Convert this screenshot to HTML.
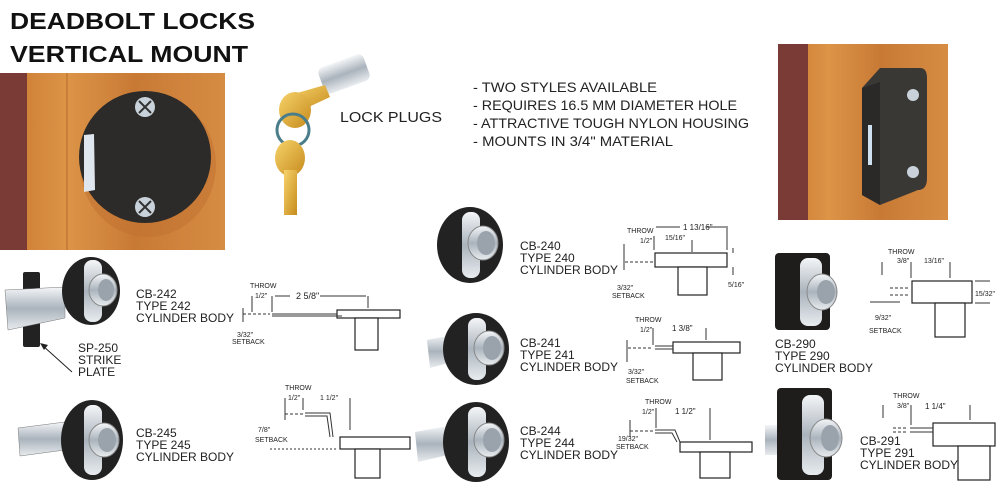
<!DOCTYPE html>
<html><head><meta charset="utf-8"><style>
html,body{margin:0;padding:0;background:#fff;}
svg{display:block;font-family:"Liberation Sans",Arial,sans-serif;}
.lb{font-size:12px;fill:#222;}
.d{font-size:7px;fill:#222;}
.ln{stroke:#333;stroke-width:1;fill:none;}
.pl{stroke:#222;stroke-width:1.2;fill:#fff;}
.ds{stroke:#333;stroke-width:1;stroke-dasharray:3,2;fill:none;}
</style></head><body>
<svg width="1000" height="500" viewBox="0 0 1000 500">
<defs>
<linearGradient id="wood" x1="0" y1="0" x2="1" y2="0">
<stop offset="0" stop-color="#c9782f"/><stop offset="0.3" stop-color="#dc9447"/><stop offset="0.6" stop-color="#c87a35"/><stop offset="1" stop-color="#d68c43"/>
</linearGradient>
<linearGradient id="chrome" x1="0" y1="0" x2="0" y2="1">
<stop offset="0" stop-color="#f4f6f8"/><stop offset="0.5" stop-color="#aab3bc"/><stop offset="1" stop-color="#e8ecef"/>
</linearGradient>
<linearGradient id="gold" x1="0" y1="0" x2="1" y2="1">
<stop offset="0" stop-color="#f6d36a"/><stop offset="1" stop-color="#c78b1d"/>
</linearGradient>
</defs>

<text x="10" y="29" font-size="23" font-weight="bold" fill="#111" textLength="245" lengthAdjust="spacingAndGlyphs">DEADBOLT LOCKS</text>
<text x="10" y="62" font-size="23" font-weight="bold" fill="#111" textLength="238" lengthAdjust="spacingAndGlyphs">VERTICAL MOUNT</text>

<!-- left photo -->
<rect x="0" y="73" width="225" height="177" fill="url(#wood)"/>
<rect x="0" y="73" width="27" height="177" fill="#7a3a36"/>
<line x1="67" y1="73" x2="67" y2="250" stroke="#b56a2a" stroke-width="1"/>
<ellipse cx="148" cy="165" rx="68" ry="72" fill="#c07030" opacity="0.5"/>
<circle cx="145" cy="157" r="66" fill="#2c2b29"/>
<path d="M84 135 L94 134 L95 190 L84 192 Z" fill="#dfe6ee"/>
<circle cx="145" cy="107" r="10" fill="#c9d2da"/><circle cx="145" cy="207" r="10" fill="#c9d2da"/>
<path d="M139 101 L151 113 M151 101 L139 113 M139 201 L151 213 M151 201 L139 213" stroke="#333" stroke-width="2"/>

<!-- keys -->
<rect x="320" y="60" width="48" height="28" rx="6" fill="url(#chrome)" transform="rotate(-20 344 74)"/>
<path d="M290 95 L325 85 L330 97 L298 112 Z" fill="url(#gold)"/>
<ellipse cx="295" cy="110" rx="16" ry="18" fill="url(#gold)"/>
<circle cx="293" cy="130" r="16" fill="none" stroke="#4a7d8a" stroke-width="3"/>
<ellipse cx="290" cy="158" rx="15" ry="18" fill="url(#gold)"/>
<rect x="284" y="170" width="13" height="45" fill="url(#gold)"/>
<text x="340" y="122" font-size="15" fill="#222" textLength="102" lengthAdjust="spacingAndGlyphs">LOCK PLUGS</text>

<!-- bullets -->
<g font-size="14" fill="#222">
<text x="473" y="92" textLength="184" lengthAdjust="spacingAndGlyphs">- TWO STYLES AVAILABLE</text>
<text x="473" y="110" textLength="264" lengthAdjust="spacingAndGlyphs">- REQUIRES 16.5 MM DIAMETER HOLE</text>
<text x="473" y="128" textLength="276" lengthAdjust="spacingAndGlyphs">- ATTRACTIVE TOUGH NYLON HOUSING</text>
<text x="473" y="146" textLength="200" lengthAdjust="spacingAndGlyphs">- MOUNTS IN 3/4" MATERIAL</text>
</g>

<!-- right photo -->
<rect x="778" y="44" width="170" height="176" fill="url(#wood)"/>
<rect x="778" y="44" width="30" height="176" fill="#7a3a36"/>
<path d="M862 88 L880 68 L920 68 Q927 68 927 78 L927 178 Q927 190 918 190 L880 205 L862 195 Z" fill="#3a3835"/>
<path d="M862 88 L880 82 L880 205 L862 195 Z" fill="#2a2927"/>
<rect x="868" y="125" width="4" height="40" fill="#cfe0f0"/>
<circle cx="913" cy="95" r="6" fill="#c9d2da"/><circle cx="913" cy="172" r="6" fill="#c9d2da"/>

<!-- CB-242 -->
<rect x="23" y="272" width="17" height="75" rx="2" fill="#222"/>
<path d="M5 290 L65 287 L65 318 L8 330 Z" fill="url(#chrome)" stroke="#777" stroke-width="0.5"/>
<ellipse cx="91" cy="291" rx="29" ry="34" fill="#222"/>
<rect x="84" y="260" width="18" height="62" rx="8" fill="url(#chrome)"/>
<ellipse cx="103" cy="290" rx="14" ry="16" fill="url(#chrome)" stroke="#888" stroke-width="1"/>
<ellipse cx="106" cy="290" rx="8" ry="11" fill="#9aa3ac"/>
<line x1="72" y1="372" x2="42" y2="345" stroke="#222" stroke-width="1"/>
<path d="M40 343 L48 345 L44 350 Z" fill="#222"/>

<!-- CB-245 -->
<path d="M18 428 L65 422 L65 450 L20 456 Z" fill="url(#chrome)" stroke="#777" stroke-width="0.5"/>
<ellipse cx="92" cy="440" rx="31" ry="40" fill="#222"/>
<rect x="84" y="405" width="18" height="70" rx="8" fill="url(#chrome)"/>
<ellipse cx="104" cy="440" rx="15" ry="17" fill="url(#chrome)" stroke="#888"/>
<ellipse cx="107" cy="440" rx="9" ry="12" fill="#9aa3ac"/>

<!-- CB-240 -->
<ellipse cx="470" cy="245" rx="33" ry="38" fill="#222"/>
<rect x="462" y="212" width="18" height="66" rx="8" fill="url(#chrome)"/>
<ellipse cx="483" cy="243" rx="15" ry="17" fill="url(#chrome)" stroke="#888"/>
<ellipse cx="486" cy="243" rx="9" ry="12" fill="#9aa3ac"/>
<!-- CB-241 -->
<path d="M427 340 L452 335 L452 362 L430 368 Z" fill="url(#chrome)"/>
<ellipse cx="476" cy="349" rx="33" ry="36" fill="#222"/>
<rect x="468" y="318" width="18" height="62" rx="8" fill="url(#chrome)"/>
<ellipse cx="489" cy="348" rx="15" ry="17" fill="url(#chrome)" stroke="#888"/>
<ellipse cx="492" cy="348" rx="9" ry="12" fill="#9aa3ac"/>
<!-- CB-244 -->
<path d="M415 432 L448 426 L448 455 L418 462 Z" fill="url(#chrome)"/>
<ellipse cx="476" cy="442" rx="33" ry="40" fill="#222"/>
<rect x="468" y="407" width="18" height="70" rx="8" fill="url(#chrome)"/>
<ellipse cx="489" cy="440" rx="15" ry="17" fill="url(#chrome)" stroke="#888"/>
<ellipse cx="492" cy="440" rx="9" ry="12" fill="#9aa3ac"/>

<!-- rectangular bodies -->
<rect x="775" y="253" width="55" height="77" rx="4" fill="#1e1d1b"/>
<rect x="800" y="258" width="22" height="68" rx="8" fill="url(#chrome)"/>
<ellipse cx="822" cy="292" rx="15" ry="18" fill="url(#chrome)" stroke="#888"/>
<ellipse cx="826" cy="292" rx="9" ry="12" fill="#9aa3ac"/>

<rect x="765" y="425" width="20" height="30" fill="url(#chrome)"/>
<rect x="777" y="388" width="55" height="92" rx="4" fill="#1e1d1b"/>
<rect x="802" y="395" width="22" height="80" rx="8" fill="url(#chrome)"/>
<ellipse cx="826" cy="438" rx="16" ry="19" fill="url(#chrome)" stroke="#888"/>
<ellipse cx="830" cy="438" rx="9" ry="13" fill="#9aa3ac"/>

<!-- labels -->
<g class="lb">
<text x="136" y="298">CB-242</text><text x="136" y="310">TYPE 242</text><text x="136" y="322">CYLINDER BODY</text>
<text x="78" y="352">SP-250</text><text x="78" y="364">STRIKE</text><text x="78" y="376">PLATE</text>
<text x="136" y="437">CB-245</text><text x="136" y="449">TYPE 245</text><text x="136" y="461">CYLINDER BODY</text>
<text x="520" y="250">CB-240</text><text x="520" y="262">TYPE 240</text><text x="520" y="274">CYLINDER BODY</text>
<text x="520" y="347">CB-241</text><text x="520" y="359">TYPE 241</text><text x="520" y="371">CYLINDER BODY</text>
<text x="520" y="435">CB-244</text><text x="520" y="447">TYPE 244</text><text x="520" y="459">CYLINDER BODY</text>
<text x="775" y="348">CB-290</text><text x="775" y="360">TYPE 290</text><text x="775" y="372">CYLINDER BODY</text>
<text x="860" y="445">CB-291</text><text x="860" y="457">TYPE 291</text><text x="860" y="469">CYLINDER BODY</text>
</g>

<!-- drawing CB-242 -->
<g>
<rect x="337" y="310" width="63" height="8" class="pl"/>
<rect x="355" y="318" width="23" height="32" class="pl"/>
<line x1="272" y1="314" x2="337" y2="314" class="ln"/><line x1="272" y1="316" x2="342" y2="316" class="ln"/>
<path d="M243 314 L270 314" class="ds"/>
<line x1="243" y1="308" x2="243" y2="322" class="ln"/>
<line x1="252" y1="296" x2="252" y2="312" class="ln"/><line x1="272" y1="296" x2="272" y2="312" class="ln"/>
<line x1="368" y1="296" x2="368" y2="308" class="ln"/>
<line x1="275" y1="296" x2="290" y2="296" class="ln"/><line x1="320" y1="296" x2="366" y2="296" class="ln"/>
<text class="d" x="250" y="288">THROW</text><text class="d" x="255" y="298">1/2"</text>
<text x="296" y="299" font-size="9" fill="#222">2 5/8"</text>
<text class="d" x="237" y="337">3/32"</text><text class="d" x="232" y="344">SETBACK</text>
</g>
<!-- CB-245 -->
<g>
<rect x="340" y="437" width="70" height="12" class="pl"/>
<rect x="355" y="449" width="25" height="29" class="pl"/>
<path d="M305 413 L330 413 L333 437" class="ln"/><path d="M305 416 L327 416 L330 437" class="ln"/>
<path d="M285 414 L303 414" class="ds"/>
<line x1="285" y1="398" x2="285" y2="420" class="ln"/><line x1="303" y1="398" x2="303" y2="410" class="ln"/>
<line x1="350" y1="398" x2="350" y2="430" class="ln"/><line x1="270" y1="449" x2="338" y2="449" class="ln" stroke-dasharray="2,2"/>
<text class="d" x="285" y="390">THROW</text><text class="d" x="288" y="400">1/2"</text><text class="d" x="320" y="400">1 1/2"</text>
<text class="d" x="258" y="432">7/8"</text><text class="d" x="255" y="442">SETBACK</text>
</g>
<!-- CB-240 -->
<g>
<rect x="655" y="253" width="72" height="14" class="pl"/>
<rect x="678" y="267" width="29" height="28" class="pl"/>
<path d="M625 262 L654 262" class="ds"/>
<line x1="624" y1="244" x2="624" y2="270" class="ln"/><line x1="654" y1="236" x2="654" y2="250" class="ln"/>
<line x1="692" y1="240" x2="692" y2="252" class="ln"/><line x1="727" y1="226" x2="727" y2="250" class="ln"/>
<line x1="656" y1="227" x2="680" y2="227" class="ln"/><line x1="706" y1="227" x2="726" y2="227" class="ln"/>
<line x1="733" y1="248" x2="733" y2="253" class="ln"/><line x1="733" y1="267" x2="733" y2="275" class="ln"/>
<text class="d" x="627" y="233">THROW</text><text class="d" x="640" y="243">1/2"</text><text class="d" x="665" y="240">15/16"</text>
<text x="683" y="230" font-size="8" fill="#222">1 13/16"</text>
<text class="d" x="617" y="290">3/32"</text><text class="d" x="612" y="298">SETBACK</text><text class="d" x="728" y="287">5/16"</text>
</g>
<!-- CB-241 -->
<g>
<rect x="673" y="342" width="67" height="11" class="pl"/>
<rect x="693" y="353" width="29" height="27" class="pl"/>
<line x1="655" y1="346" x2="673" y2="346" class="ln"/><line x1="655" y1="349" x2="673" y2="349" class="ln"/>
<path d="M628 348 L653 348" class="ds"/>
<line x1="627" y1="340" x2="627" y2="362" class="ln"/><line x1="653" y1="328" x2="653" y2="345" class="ln"/>
<line x1="706" y1="328" x2="706" y2="340" class="ln"/>
<text class="d" x="635" y="322">THROW</text><text class="d" x="640" y="332">1/2"</text><text x="672" y="331" font-size="8" fill="#222">1 3/8"</text>
<text class="d" x="628" y="374">3/32"</text><text class="d" x="626" y="383">SETBACK</text>
</g>
<!-- CB-244 -->
<g>
<rect x="680" y="442" width="72" height="10" class="pl"/>
<rect x="700" y="452" width="30" height="26" class="pl"/>
<path d="M655 430 L675 430 L680 442" class="ln"/><path d="M655 433 L672 433 L677 442" class="ln"/>
<path d="M630 431 L653 431" class="ds"/>
<line x1="630" y1="420" x2="630" y2="437" class="ln"/><line x1="656" y1="408" x2="656" y2="428" class="ln"/>
<line x1="710" y1="408" x2="710" y2="440" class="ln"/>
<text class="d" x="645" y="404">THROW</text><text class="d" x="642" y="414">1/2"</text><text x="675" y="414" font-size="8" fill="#222">1 1/2"</text>
<text class="d" x="618" y="441">19/32"</text><text class="d" x="616" y="449">SETBACK</text>
</g>
<!-- CB-290 -->
<g>
<rect x="912" y="281" width="60" height="22" class="pl"/>
<rect x="935" y="303" width="30" height="34" class="pl"/>
<path d="M890 288 L910 288 M890 295 L910 295" class="ds"/>
<line x1="882" y1="262" x2="882" y2="275" class="ln"/><line x1="911" y1="262" x2="911" y2="278" class="ln"/>
<line x1="950" y1="262" x2="950" y2="278" class="ln"/>
<line x1="870" y1="302" x2="900" y2="302" class="ln"/><line x1="975" y1="281" x2="990" y2="281" class="ln"/><line x1="975" y1="303" x2="990" y2="303" class="ln"/>
<text class="d" x="888" y="254">THROW</text><text class="d" x="897" y="263">3/8"</text><text class="d" x="924" y="263">13/16"</text>
<text class="d" x="975" y="296">15/32"</text><text class="d" x="875" y="320">9/32"</text><text class="d" x="869" y="333">SETBACK</text>
</g>
<!-- CB-291 -->
<g>
<rect x="933" y="423" width="62" height="23" class="pl"/>
<rect x="958" y="446" width="32" height="34" class="pl"/>
<path d="M893 428 L908 428 M893 432 L908 432" class="ds"/>
<line x1="910" y1="428" x2="933" y2="428" class="ln"/><line x1="910" y1="432" x2="933" y2="432" class="ln"/>
<line x1="883" y1="405" x2="883" y2="418" class="ln"/><line x1="911" y1="405" x2="911" y2="425" class="ln"/>
<line x1="970" y1="405" x2="970" y2="420" class="ln"/>
<text class="d" x="893" y="398">THROW</text><text class="d" x="897" y="408">3/8"</text><text x="925" y="409" font-size="8" fill="#222">1 1/4"</text>
</g>
</svg>
</body></html>
